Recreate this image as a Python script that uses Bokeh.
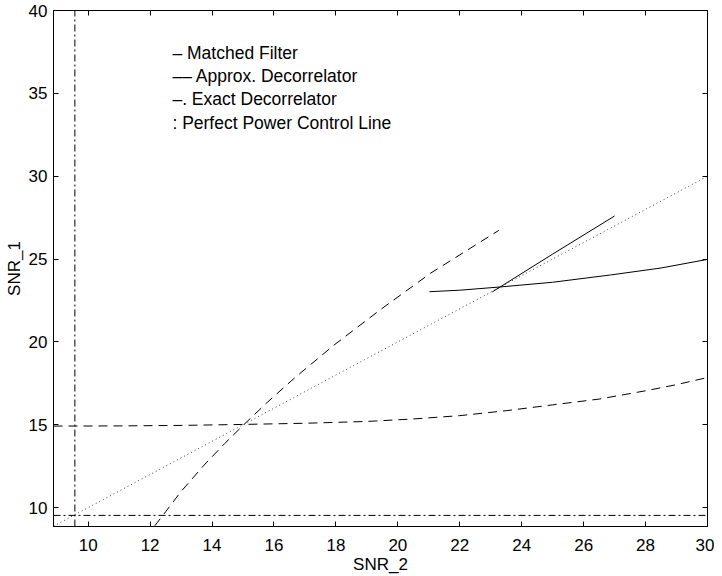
from bokeh.plotting import figure
from bokeh.models import Range1d, LinearAxis, FixedTicker
from bokeh.core.properties import value
from bokeh.embed import file_html
from bokeh.resources import INLINE

# ---- data ----
x_ticks = [10, 12, 14, 16, 18, 20, 22, 24, 26, 28, 30]
y_ticks = [10, 15, 20, 25, 30, 35, 40]

# Matched filter (solid), two branches
mf_low_x = [21.02, 22.0, 23.27, 25.0, 26.87, 28.5, 30.0]
mf_low_y = [23.03, 23.12, 23.31, 23.60, 24.04, 24.46, 24.98]
mf_up_x = [23.05, 25.0, 27.0]
mf_up_y = [23.02, 25.3, 27.6]

# Approx. decorrelator (dashed), two branches
ad_up_x = [12.15, 12.5, 12.99, 13.74, 14.4, 15.05, 15.8, 16.65, 17.94, 19.44, 21.06, 23.26]
ad_up_y = [8.9, 9.75, 10.95, 12.56, 13.85, 15.05, 16.38, 17.8, 19.81, 21.95, 24.15, 26.73]
ad_low_x = [8.88, 11.0, 13.0, 15.0, 17.0, 19.0, 20.5, 22.0, 23.5, 25.0, 26.5, 28.0, 29.0, 30.0]
ad_low_y = [14.92, 14.93, 14.96, 15.02, 15.09, 15.2, 15.35, 15.55, 15.85, 16.2, 16.55, 17.05, 17.42, 17.85]

# Exact decorrelator (dash-dot): vertical and horizontal asymptotes
ed_v_x = [9.57, 9.57]
ed_v_y = [8.86, 40.0]
ed_h_x = [8.88, 30.0]
ed_h_y = [9.53, 9.53]

# Perfect power control line (dotted)
pp_x = [8.88, 30.0]
pp_y = [8.88, 30.0]

legend_labels = ["\u2013 Matched Filter",
                 "\u2013\u2013 Approx. Decorrelator",
                 "\u2013. Exact Decorrelator",
                 ": Perfect Power Control Line"]
legend_x = [12.72, 12.72, 12.72, 12.72]
legend_y = [37.45, 36.04, 34.63, 33.21]

FONT = "Liberation Sans"
FS = "17px"

p = figure(output_backend="svg", toolbar_location=None,
           frame_width=654, frame_height=516,
           x_range=Range1d(8.88, 30.0), y_range=Range1d(8.86, 40.0),
           min_border_left=53, min_border_right=7,
           min_border_top=10, min_border_bottom=48,
           background_fill_color="white", border_fill_color="white")
p.xgrid.visible = False
p.ygrid.visible = False
p.outline_line_color = "black"
p.outline_line_width = 1

for ax, ticks, lab in ((p.xaxis[0], x_ticks, "SNR_2"), (p.yaxis[0], y_ticks, "SNR_1")):
    ax.ticker = FixedTicker(ticks=ticks)
    ax.major_tick_in = 5
    ax.major_tick_out = 0
    ax.minor_tick_line_color = None
    ax.axis_line_color = "black"
    ax.major_tick_line_color = "black"
    ax.major_label_text_font = FONT
    ax.major_label_text_font_size = FS
    ax.major_label_text_color = "black"
    ax.axis_label = lab
    ax.axis_label_text_font = FONT
    ax.axis_label_text_font_size = FS
    ax.axis_label_text_font_style = "normal"
    ax.axis_label_text_color = "black"

p.xaxis[0].major_label_standoff = 12
p.xaxis[0].axis_label_standoff = 1
p.yaxis[0].major_label_standoff = 6
p.yaxis[0].axis_label_standoff = 2

for loc, ticks in (("right", y_ticks), ("above", x_ticks)):
    ax = LinearAxis(ticker=FixedTicker(ticks=ticks))
    ax.major_tick_in = 5
    ax.major_tick_out = 0
    ax.minor_tick_line_color = None
    ax.axis_line_color = "black"
    ax.major_tick_line_color = "black"
    ax.major_label_text_font_size = "0px"
    ax.major_label_standoff = 0
    ax.major_label_overrides = {t: "" for t in ticks}
    p.add_layout(ax, loc)

p.line(pp_x, pp_y, line_color="#444444", line_width=1, line_dash="1 3")
p.line(ed_v_x, ed_v_y, line_color="black", line_width=1, line_dash="7 3 2 3")
p.line(ed_h_x, ed_h_y, line_color="black", line_width=1, line_dash="7 3 2 3")
p.line(ad_up_x, ad_up_y, line_color="black", line_width=1, line_dash="9 6")
p.line(ad_low_x, ad_low_y, line_color="black", line_width=1, line_dash="9 6")
p.line(mf_low_x, mf_low_y, line_color="black", line_width=1)
p.line(mf_up_x, mf_up_y, line_color="black", line_width=1)

p.text(x=legend_x, y=legend_y, text=legend_labels,
       text_font=value(FONT), text_font_size="17.5px",
       text_baseline="alphabetic", text_align="left", text_color="black")

open("out.html", "w").write(file_html(p, INLINE))
